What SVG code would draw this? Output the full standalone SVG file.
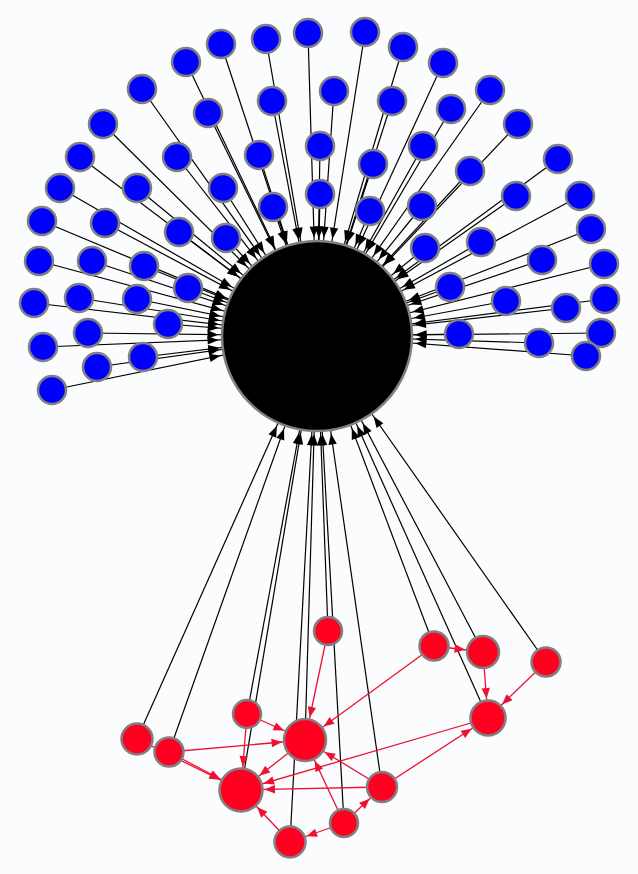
<svg xmlns="http://www.w3.org/2000/svg" width="638" height="874" viewBox="0 0 638 874">
<style>
.b{fill:#0000ff;stroke:#808080;stroke-width:2.5}
.r{fill:#ff0020;stroke:#808080;stroke-width:2.5}
.hub{fill:#000;stroke:#808080;stroke-width:2.5}
.k{stroke:#000;stroke-width:1.2;marker-end:url(#mHub)}
.re{stroke:#ee1030;stroke-width:1.3}
</style>
<defs>
<marker id="mHub" markerUnits="userSpaceOnUse" orient="auto" viewBox="-120 -10 130 20" markerWidth="130" markerHeight="20" refX="0" refY="0"><path d="M-109.5,-4.2 L-98.5,0 L-109.5,4.2 Z" fill="#000"/></marker>
<marker id="mC" markerUnits="userSpaceOnUse" orient="auto" viewBox="-50 -10 60 20" markerWidth="60" markerHeight="20" refX="0" refY="0"><path d="M-33.5,-4.2 L-23,0 L-33.5,4.2 Z" fill="#ee1030"/></marker>
<marker id="mF" markerUnits="userSpaceOnUse" orient="auto" viewBox="-50 -10 60 20" markerWidth="60" markerHeight="20" refX="0" refY="0"><path d="M-34,-4.2 L-23.5,0 L-34,4.2 Z" fill="#ee1030"/></marker>
<marker id="mM" markerUnits="userSpaceOnUse" orient="auto" viewBox="-50 -10 60 20" markerWidth="60" markerHeight="20" refX="0" refY="0"><path d="M-30,-4.2 L-19.5,0 L-30,4.2 Z" fill="#ee1030"/></marker>
<marker id="mK" markerUnits="userSpaceOnUse" orient="auto" viewBox="-50 -10 60 20" markerWidth="60" markerHeight="20" refX="0" refY="0"><path d="M-28.5,-4.2 L-18,0 L-28.5,4.2 Z" fill="#ee1030"/></marker>
<marker id="mG" markerUnits="userSpaceOnUse" orient="auto" viewBox="-50 -10 60 20" markerWidth="60" markerHeight="20" refX="0" refY="0"><path d="M-27.5,-4.2 L-17,0 L-27.5,4.2 Z" fill="#ee1030"/></marker>
<marker id="mI" markerUnits="userSpaceOnUse" orient="auto" viewBox="-50 -10 60 20" markerWidth="60" markerHeight="20" refX="0" refY="0"><path d="M-28,-4.2 L-17.5,0 L-28,4.2 Z" fill="#ee1030"/></marker>
</defs>
<rect width="638" height="874" fill="#fbfcfd"/>
<g id="connectors">
<line class="k" x1="221" y1="44" x2="317" y2="336"/>
<line class="k" x1="266" y1="39" x2="317" y2="336"/>
<line class="k" x1="308" y1="33" x2="317" y2="336"/>
<line class="k" x1="186" y1="62" x2="317" y2="336"/>
<line class="k" x1="142" y1="89" x2="317" y2="336"/>
<line class="k" x1="103" y1="124" x2="317" y2="336"/>
<line class="k" x1="80" y1="157" x2="317" y2="336"/>
<line class="k" x1="60" y1="188" x2="317" y2="336"/>
<line class="k" x1="42" y1="221" x2="317" y2="336"/>
<line class="k" x1="272" y1="101" x2="317" y2="336"/>
<line class="k" x1="208" y1="113" x2="317" y2="336"/>
<line class="k" x1="259" y1="155" x2="317" y2="336"/>
<line class="k" x1="177" y1="157" x2="317" y2="336"/>
<line class="k" x1="137" y1="188" x2="317" y2="336"/>
<line class="k" x1="223" y1="188" x2="317" y2="336"/>
<line class="k" x1="273" y1="207" x2="317" y2="336"/>
<line class="k" x1="320" y1="146" x2="317" y2="336"/>
<line class="k" x1="320" y1="194" x2="317" y2="336"/>
<line class="k" x1="334" y1="91" x2="317" y2="336"/>
<line class="k" x1="365" y1="32" x2="317" y2="336"/>
<line class="k" x1="403" y1="47" x2="317" y2="336"/>
<line class="k" x1="443" y1="63" x2="317" y2="336"/>
<line class="k" x1="490" y1="90" x2="317" y2="336"/>
<line class="k" x1="518" y1="124" x2="317" y2="336"/>
<line class="k" x1="558" y1="159" x2="317" y2="336"/>
<line class="k" x1="580" y1="196" x2="317" y2="336"/>
<line class="k" x1="392" y1="101" x2="317" y2="336"/>
<line class="k" x1="451" y1="109" x2="317" y2="336"/>
<line class="k" x1="423" y1="146" x2="317" y2="336"/>
<line class="k" x1="373" y1="164" x2="317" y2="336"/>
<line class="k" x1="470" y1="171" x2="317" y2="336"/>
<line class="k" x1="516" y1="196" x2="317" y2="336"/>
<line class="k" x1="370" y1="211" x2="317" y2="336"/>
<line class="k" x1="422" y1="206" x2="317" y2="336"/>
<line class="k" x1="105" y1="223" x2="317" y2="336"/>
<line class="k" x1="179" y1="232" x2="317" y2="336"/>
<line class="k" x1="226" y1="238" x2="317" y2="336"/>
<line class="k" x1="39" y1="261" x2="317" y2="336"/>
<line class="k" x1="92" y1="261" x2="317" y2="336"/>
<line class="k" x1="144" y1="266" x2="317" y2="336"/>
<line class="k" x1="188" y1="288" x2="317" y2="336"/>
<line class="k" x1="34" y1="303" x2="317" y2="336"/>
<line class="k" x1="79" y1="298" x2="317" y2="336"/>
<line class="k" x1="137" y1="299" x2="317" y2="336"/>
<line class="k" x1="168" y1="324" x2="317" y2="336"/>
<line class="k" x1="88" y1="333" x2="317" y2="336"/>
<line class="k" x1="43" y1="347" x2="317" y2="336"/>
<line class="k" x1="143" y1="357" x2="317" y2="336"/>
<line class="k" x1="97" y1="367" x2="317" y2="336"/>
<line class="k" x1="52" y1="390" x2="317" y2="336"/>
<line class="k" x1="591" y1="229" x2="317" y2="336"/>
<line class="k" x1="481" y1="242" x2="317" y2="336"/>
<line class="k" x1="425" y1="248" x2="317" y2="336"/>
<line class="k" x1="542" y1="260" x2="317" y2="336"/>
<line class="k" x1="604" y1="264" x2="317" y2="336"/>
<line class="k" x1="450" y1="287" x2="317" y2="336"/>
<line class="k" x1="506" y1="301" x2="317" y2="336"/>
<line class="k" x1="566" y1="308" x2="317" y2="336"/>
<line class="k" x1="605" y1="299" x2="317" y2="336"/>
<line class="k" x1="459" y1="334" x2="317" y2="336"/>
<line class="k" x1="539" y1="343" x2="317" y2="336"/>
<line class="k" x1="601" y1="333" x2="317" y2="336"/>
<line class="k" x1="586" y1="356" x2="317" y2="336"/>
<line class="k" x1="328" y1="631" x2="317" y2="336"/>
<line class="k" x1="247" y1="714" x2="317" y2="336"/>
<line class="k" x1="305" y1="740" x2="317" y2="336"/>
<line class="k" x1="137" y1="739" x2="317" y2="336"/>
<line class="k" x1="169" y1="752" x2="317" y2="336"/>
<line class="k" x1="241" y1="790" x2="317" y2="336"/>
<line class="k" x1="382" y1="787" x2="317" y2="336"/>
<line class="k" x1="344" y1="823" x2="317" y2="336"/>
<line class="k" x1="290" y1="842" x2="317" y2="336"/>
<line class="k" x1="434" y1="646" x2="317" y2="336"/>
<line class="k" x1="483" y1="652" x2="317" y2="336"/>
<line class="k" x1="546" y1="662" x2="317" y2="336"/>
<line class="k" x1="488" y1="718" x2="317" y2="336"/>
<line class="re" x1="328" y1="631" x2="305" y2="740" marker-end="url(#mC)"/>
<line class="re" x1="247" y1="714" x2="305" y2="740" marker-end="url(#mC)"/>
<line class="re" x1="247" y1="714" x2="241" y2="790" marker-end="url(#mF)"/>
<line class="re" x1="169" y1="752" x2="305" y2="740" marker-end="url(#mC)"/>
<line class="re" x1="137" y1="739" x2="241" y2="790" marker-end="url(#mF)"/>
<line class="re" x1="169" y1="752" x2="241" y2="790" marker-end="url(#mF)"/>
<line class="re" x1="305" y1="740" x2="241" y2="790" marker-end="url(#mF)"/>
<line class="re" x1="434" y1="646" x2="305" y2="740" marker-end="url(#mC)"/>
<line class="re" x1="488" y1="718" x2="241" y2="790" marker-end="url(#mF)"/>
<line class="re" x1="382" y1="787" x2="241" y2="790" marker-end="url(#mF)"/>
<line class="re" x1="382" y1="787" x2="305" y2="740" marker-end="url(#mC)"/>
<line class="re" x1="344" y1="823" x2="305" y2="740" marker-end="url(#mC)"/>
<line class="re" x1="344" y1="823" x2="382" y2="787" marker-end="url(#mG)"/>
<line class="re" x1="344" y1="823" x2="290" y2="842" marker-end="url(#mI)"/>
<line class="re" x1="290" y1="842" x2="241" y2="790" marker-end="url(#mF)"/>
<line class="re" x1="434" y1="646" x2="483" y2="652" marker-end="url(#mK)"/>
<line class="re" x1="483" y1="652" x2="488" y2="718" marker-end="url(#mM)"/>
<line class="re" x1="546" y1="662" x2="488" y2="718" marker-end="url(#mM)"/>
<line class="re" x1="382" y1="787" x2="488" y2="718" marker-end="url(#mM)"/>
</g>
<g id="hub"><circle class="hub" cx="317" cy="336" r="95"/></g>
<g id="b1"><circle class="b" cx="221" cy="44" r="14"/></g>
<g id="b2"><circle class="b" cx="266" cy="39" r="14"/></g>
<g id="b3"><circle class="b" cx="308" cy="33" r="14"/></g>
<g id="b4"><circle class="b" cx="186" cy="62" r="14"/></g>
<g id="b5"><circle class="b" cx="142" cy="89" r="14"/></g>
<g id="b6"><circle class="b" cx="103" cy="124" r="14"/></g>
<g id="b7"><circle class="b" cx="80" cy="157" r="14"/></g>
<g id="b8"><circle class="b" cx="60" cy="188" r="14"/></g>
<g id="b9"><circle class="b" cx="42" cy="221" r="14"/></g>
<g id="b10"><circle class="b" cx="272" cy="101" r="14"/></g>
<g id="b11"><circle class="b" cx="208" cy="113" r="14"/></g>
<g id="b12"><circle class="b" cx="259" cy="155" r="14"/></g>
<g id="b13"><circle class="b" cx="177" cy="157" r="14"/></g>
<g id="b14"><circle class="b" cx="137" cy="188" r="14"/></g>
<g id="b15"><circle class="b" cx="223" cy="188" r="14"/></g>
<g id="b16"><circle class="b" cx="273" cy="207" r="14"/></g>
<g id="b17"><circle class="b" cx="320" cy="146" r="14"/></g>
<g id="b18"><circle class="b" cx="320" cy="194" r="14"/></g>
<g id="b19"><circle class="b" cx="334" cy="91" r="14"/></g>
<g id="b20"><circle class="b" cx="365" cy="32" r="14"/></g>
<g id="b21"><circle class="b" cx="403" cy="47" r="14"/></g>
<g id="b22"><circle class="b" cx="443" cy="63" r="14"/></g>
<g id="b23"><circle class="b" cx="490" cy="90" r="14"/></g>
<g id="b24"><circle class="b" cx="518" cy="124" r="14"/></g>
<g id="b25"><circle class="b" cx="558" cy="159" r="14"/></g>
<g id="b26"><circle class="b" cx="580" cy="196" r="14"/></g>
<g id="b27"><circle class="b" cx="392" cy="101" r="14"/></g>
<g id="b28"><circle class="b" cx="451" cy="109" r="14"/></g>
<g id="b29"><circle class="b" cx="423" cy="146" r="14"/></g>
<g id="b30"><circle class="b" cx="373" cy="164" r="14"/></g>
<g id="b31"><circle class="b" cx="470" cy="171" r="14"/></g>
<g id="b32"><circle class="b" cx="516" cy="196" r="14"/></g>
<g id="b33"><circle class="b" cx="370" cy="211" r="14"/></g>
<g id="b34"><circle class="b" cx="422" cy="206" r="14"/></g>
<g id="b35"><circle class="b" cx="105" cy="223" r="14"/></g>
<g id="b36"><circle class="b" cx="179" cy="232" r="14"/></g>
<g id="b37"><circle class="b" cx="226" cy="238" r="14"/></g>
<g id="b38"><circle class="b" cx="39" cy="261" r="14"/></g>
<g id="b39"><circle class="b" cx="92" cy="261" r="14"/></g>
<g id="b40"><circle class="b" cx="144" cy="266" r="14"/></g>
<g id="b41"><circle class="b" cx="188" cy="288" r="14"/></g>
<g id="b42"><circle class="b" cx="34" cy="303" r="14"/></g>
<g id="b43"><circle class="b" cx="79" cy="298" r="14"/></g>
<g id="b44"><circle class="b" cx="137" cy="299" r="14"/></g>
<g id="b45"><circle class="b" cx="168" cy="324" r="14"/></g>
<g id="b46"><circle class="b" cx="88" cy="333" r="14"/></g>
<g id="b47"><circle class="b" cx="43" cy="347" r="14"/></g>
<g id="b48"><circle class="b" cx="143" cy="357" r="14"/></g>
<g id="b49"><circle class="b" cx="97" cy="367" r="14"/></g>
<g id="b50"><circle class="b" cx="52" cy="390" r="14"/></g>
<g id="b51"><circle class="b" cx="591" cy="229" r="14"/></g>
<g id="b52"><circle class="b" cx="481" cy="242" r="14"/></g>
<g id="b53"><circle class="b" cx="425" cy="248" r="14"/></g>
<g id="b54"><circle class="b" cx="542" cy="260" r="14"/></g>
<g id="b55"><circle class="b" cx="604" cy="264" r="14"/></g>
<g id="b56"><circle class="b" cx="450" cy="287" r="14"/></g>
<g id="b57"><circle class="b" cx="506" cy="301" r="14"/></g>
<g id="b58"><circle class="b" cx="566" cy="308" r="14"/></g>
<g id="b59"><circle class="b" cx="605" cy="299" r="14"/></g>
<g id="b60"><circle class="b" cx="459" cy="334" r="14"/></g>
<g id="b61"><circle class="b" cx="539" cy="343" r="14"/></g>
<g id="b62"><circle class="b" cx="601" cy="333" r="14"/></g>
<g id="b63"><circle class="b" cx="586" cy="356" r="14"/></g>
<g id="rA"><circle class="r" cx="328" cy="631" r="14"/></g>
<g id="rB"><circle class="r" cx="247" cy="714" r="14"/></g>
<g id="rC"><circle class="r" cx="305" cy="740" r="21"/></g>
<g id="rD"><circle class="r" cx="137" cy="739" r="15.5"/></g>
<g id="rE"><circle class="r" cx="169" cy="752" r="14.5"/></g>
<g id="rF"><circle class="r" cx="241" cy="790" r="21.5"/></g>
<g id="rG"><circle class="r" cx="382" cy="787" r="15"/></g>
<g id="rH"><circle class="r" cx="344" cy="823" r="14"/></g>
<g id="rI"><circle class="r" cx="290" cy="842" r="15.5"/></g>
<g id="rJ"><circle class="r" cx="434" cy="646" r="14.5"/></g>
<g id="rK"><circle class="r" cx="483" cy="652" r="16"/></g>
<g id="rL"><circle class="r" cx="546" cy="662" r="14.5"/></g>
<g id="rM"><circle class="r" cx="488" cy="718" r="17.5"/></g>
</svg>
